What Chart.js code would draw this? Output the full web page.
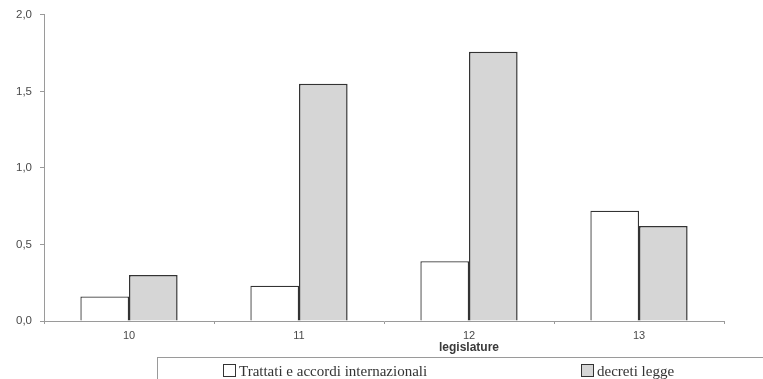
<!DOCTYPE html>
<html>
<head>
<meta charset="utf-8">
<script src="https://cdn.jsdelivr.net/npm/chart.js@4/dist/chart.umd.min.js"></script>
<style>
    html, body { margin: 0; padding: 0; background: #fff; }
    #wrap { position: relative; width: 763px; height: 379px; overflow: hidden; }
    #legenda {
        position: absolute; left: 157px; top: 357px; width: 640px; height: 40px;
        border-top: 1px solid #9a9a9a; border-left: 1px solid #9a9a9a;
        font-family: "Liberation Serif", "DejaVu Serif", serif; font-size: 15px; color: #333;
    }
    #legenda span.item { position: absolute; top: 5px; white-space: nowrap; }
    #legenda i {
        display: inline-block; width: 11px; height: 11px; border: 1px solid #333;
        margin-right: 3px; vertical-align: -1px;
    }
</style>
</head>
<body>
<div id="wrap">
    <canvas id="grafico" width="763" height="379"></canvas>
    <div id="legenda"></div>
</div>
<script>
// dati
const legislature = ['10', '11', '12', '13'];
const trattati = [0.16, 0.23, 0.39, 0.72];
const decreti = [0.30, 1.55, 1.76, 0.62];
const nomiSerie = ['Trattati e accordi internazionali', 'decreti legge'];
const yTicks = [0, 0.5, 1, 1.5, 2];

const BORDO = '#333333';
const GRIGIO = '#d6d6d6';
const ASSE = '#9a9a9a';
const TESTO = '#4a4a4a';

// titolo asse x sotto la categoria "12", come nell'originale
const titoloAsse = {
    id: 'titoloAsse',
    afterDraw(chart) {
        const x = chart.scales.x.getPixelForValue(2);
        const ctx = chart.ctx;
        ctx.save();
        ctx.font = 'bold 12px "Liberation Sans", Arial, sans-serif';
        ctx.fillStyle = '#3a3a3a';
        ctx.textAlign = 'center';
        ctx.textBaseline = 'middle';
        ctx.fillText('legislature', x, 348);
        ctx.restore();
    },
};

const chart = new Chart(document.getElementById('grafico'), {
    type: 'bar',
    data: {
        labels: legislature,
        datasets: [
            { label: nomiSerie[0], data: trattati, backgroundColor: '#ffffff', borderColor: BORDO, borderWidth: 1.3 },
            { label: nomiSerie[1], data: decreti, backgroundColor: GRIGIO, borderColor: BORDO, borderWidth: 1.5 },
        ],
    },
    options: {
        responsive: false,
        animation: false,
        layout: { padding: { top: 6, right: 39, left: 0, bottom: 0 } },
        plugins: { legend: { display: false }, tooltip: { enabled: false } },
        datasets: { bar: { categoryPercentage: 0.572, barPercentage: 1 } },
        scales: {
            x: {
                grid: { drawOnChartArea: false, color: ASSE, tickLength: 3 },
                border: { color: ASSE, width: 1 },
                ticks: { color: TESTO, padding: 5, font: { family: '"Liberation Sans", Arial, sans-serif', size: 11 } },
                afterFit: (s) => { s.height = 58; },
            },
            y: {
                min: 0,
                max: 2,
                afterBuildTicks: (s) => { s.ticks = yTicks.map((v) => ({ value: v })); },
                grid: { drawOnChartArea: false, color: ASSE, tickLength: 4 },
                border: { color: ASSE, width: 1 },
                ticks: {
                    color: TESTO,
                    padding: 8,
                    font: { family: '"Liberation Sans", Arial, sans-serif', size: 11.5 },
                    callback: (v) => Number(v).toFixed(1).replace('.', ','),
                },
                afterFit: (s) => { s.width = 44; },
            },
        },
    },
    plugins: [titoloAsse],
});

// legenda in HTML, costruita dai dataset
const legenda = document.getElementById('legenda');
const posizioni = [65, 423];
chart.data.datasets.forEach((ds, i) => {
    const item = document.createElement('span');
    item.className = 'item';
    item.style.left = posizioni[i] + 'px';
    item.innerHTML = `<i style="background:${ds.backgroundColor}"></i>${ds.label}`;
    legenda.appendChild(item);
});
</script>
</body>
</html>
